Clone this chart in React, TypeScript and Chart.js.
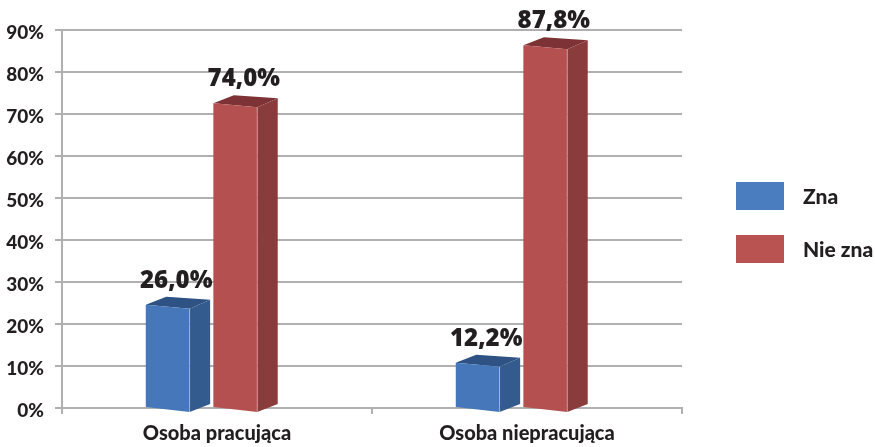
import { useEffect, useRef } from "react";
import { Chart, registerables } from "chart.js";

Chart.register(...registerables);

// ---- data ----
const categories = ["Osoba pracująca", "Osoba niepracująca"];
const seriesNames = ["Zna", "Nie zna"];
const znaValues = [26.0, 12.2];
const nieZnaValues = [74.0, 87.8];
const yMin = 0;
const yMax = 90;
const yStep = 10;

// ---- styles ----
const FRONT = ["#4677BA", "#B45150"];
const SIDE = ["#335B8D", "#8A3B3C"];
const TOP = ["#2D5283", "#7D3335"];
const LEGEND_COLORS = ["#4A7DBF", "#B85351"];
const GRID = "#b0b0b0";
const TEXT = "#231f20";
const NARROW = "Lato, Roboto, 'Liberation Sans', sans-serif";
const LABEL_FONT = "'Open Sans', 'Liberation Sans', sans-serif";
const DEPTH_X = 20.5;
const BACK_SHIFT = 5;

const fmt = (v: number) => v.toFixed(1).replace(".", ",") + "%";

const bar3d = {
  id: "bar3d",
  afterDatasetsDraw(chart: any) {
    const ctx = chart.ctx as CanvasRenderingContext2D;
    const poly = (pts: number[][], color: string) => {
      ctx.beginPath();
      ctx.moveTo(pts[0][0], pts[0][1]);
      for (let k = 1; k < pts.length; k++) ctx.lineTo(pts[k][0], pts[k][1]);
      ctx.closePath();
      ctx.fillStyle = color;
      ctx.fill();
    };
    ctx.save();
    chart.data.datasets.forEach((ds: any, di: number) => {
      const meta = chart.getDatasetMeta(di);
      meta.data.forEach((el: any, i: number) => {
        const { x, y, base, width } = el.getProps(["x", "y", "base", "width"], true);
        const bx0 = x - width / 2 + BACK_SHIFT;
        const bx1 = x + width / 2 + BACK_SHIFT;
        const fx0 = bx0 - DEPTH_X;
        const fx1 = bx1 - DEPTH_X;
        poly([[fx0, y + 6], [bx0, y - 2], [bx1, y + 1], [fx1, y + 10]], TOP[di]);
        poly([[fx1, y + 10], [bx1, y + 1], [bx1, base - 3], [fx1, base + 5]], SIDE[di]);
        poly([[fx0, y + 6], [fx1, y + 10], [fx1, base + 5], [fx0, base]], FRONT[di]);
        ctx.strokeStyle = "rgba(255,255,255,0.35)";
        ctx.lineWidth = 1;
        ctx.beginPath();
        ctx.moveTo(fx1, y + 10);
        ctx.lineTo(fx1, base + 5);
        ctx.stroke();
        ctx.fillStyle = TEXT;
        ctx.font = `800 24px ${LABEL_FONT}`;
        ctx.textAlign = "center";
        ctx.textBaseline = "alphabetic";
        ctx.fillText(fmt(ds.data[i]), x - 7, y - 11);
      });
    });
    ctx.restore();
  },
  afterDraw(chart: any) {
    const ctx = chart.ctx as CanvasRenderingContext2D;
    ctx.save();
    chart.data.datasets.forEach((ds: any, di: number) => {
      const bx = 736;
      const by = 182 + di * 53;
      ctx.fillStyle = LEGEND_COLORS[di];
      ctx.fillRect(bx, by, 48, 28);
      ctx.fillStyle = TEXT;
      ctx.font = `900 21px ${NARROW}`;
      ctx.textAlign = "left";
      ctx.textBaseline = "middle";
      ctx.fillText(ds.label, 803, by + 15);
    });
    ctx.restore();
  },
};

export default function App() {
  const ref = useRef<HTMLCanvasElement | null>(null);
  useEffect(() => {
    document.body.style.margin = "0";
    const canvas = ref.current;
    if (!canvas) return;
    const chart = new Chart(canvas, {
      type: "bar",
      data: {
        labels: categories,
        datasets: [
          {
            label: seriesNames[0],
            data: znaValues,
            backgroundColor: "rgba(0,0,0,0)",
            categoryPercentage: 0.436,
            barPercentage: 0.649,
          },
          {
            label: seriesNames[1],
            data: nieZnaValues,
            backgroundColor: "rgba(0,0,0,0)",
            categoryPercentage: 0.436,
            barPercentage: 0.649,
          },
        ],
      },
      options: {
        animation: false,
        responsive: false,
        devicePixelRatio: 1,
        layout: { padding: { left: 0, right: 193, top: 30, bottom: 0 } },
        plugins: { legend: { display: false }, tooltip: { enabled: false } },
        scales: {
          x: {
            type: "category",
            offset: true,
            grid: {
              display: true,
              drawOnChartArea: false,
              drawTicks: true,
              tickLength: 6,
              color: GRID,
              lineWidth: 2,
              offset: true,
            },
            border: { display: true, color: GRID, width: 2 },
            ticks: {
              color: TEXT,
              padding: 8,
              font: { family: NARROW, size: 20, weight: 900 },
            },
            afterFit: (s: any) => {
              s.height = 39;
            },
          },
          y: {
            min: yMin,
            max: yMax,
            ticks: {
              stepSize: yStep,
              callback: (v: any) => `${v}%`,
              color: TEXT,
              padding: 11,
              labelOffset: 3,
              font: { family: NARROW, size: 19, weight: 900 },
            },
            grid: { color: GRID, lineWidth: 2, tickLength: 7, drawTicks: true },
            border: { display: true, color: GRID, width: 2 },
            afterFit: (s: any) => {
              s.width = 62;
            },
          },
        },
      },
      plugins: [bar3d],
    } as any);
    return () => chart.destroy();
  }, []);
  return (
    <div style={{ width: 875, height: 447, background: "#fff" }}>
      <canvas ref={ref} width={875} height={447} style={{ display: "block" }} />
    </div>
  );
}
